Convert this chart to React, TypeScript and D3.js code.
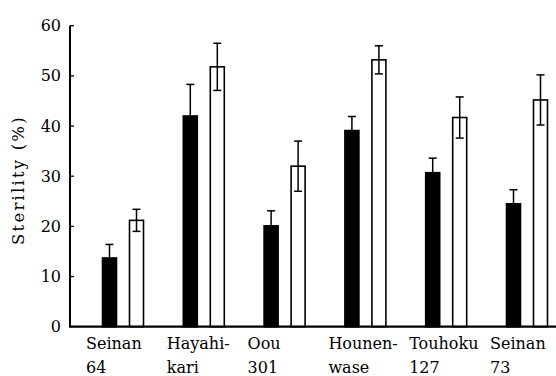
import React from "react";
import * as d3 from "d3";

// Cultivars (two-line labels) and sterility values (%) with standard errors
const cultivars = ["Seinan 64", "Hayahi-kari", "Oou 301", "Hounen-wase", "Touhoku 127", "Seinan 73"];
const labelLine1 = ["Seinan", "Hayahi-", "Oou", "Hounen-", "Touhoku", "Seinan"];
const labelLine2 = ["64", "kari", "301", "wase", "127", "73"];
const blackValues = [13.7, 42.0, 20.1, 39.1, 30.7, 24.5];
const blackErrors = [2.7, 6.3, 3.0, 2.8, 2.9, 2.8];
const whiteValues = [21.2, 51.8, 32.0, 53.2, 41.7, 45.2];
const whiteErrors = [2.2, 4.7, 5.0, 2.8, 4.1, 5.0];
const yTicks = [0, 10, 20, 30, 40, 50, 60];
const seriesKeys = ["black", "white"];

const W = 556;
const H = 376;
const FONT = '"DejaVu Serif"';

const axisX0 = 70;
const y = d3.scaleLinear().domain([0, 60]).range([326.7, 25.7]);
const x = d3.scalePoint<string>().domain(cultivars).range([123, 527]);
const xi = d3.scalePoint<string>().domain(seriesKeys).range([-13.5, 13.5]);
const barW = 14;
const capW = 8;

const rows = cultivars.flatMap((c, i) => [
  { c, key: "black", v: blackValues[i], e: blackErrors[i] },
  { c, key: "white", v: whiteValues[i], e: whiteErrors[i] },
]);

const textStyle = (size: number, spacing = 0): React.CSSProperties => ({
  fontFamily: FONT,
  fontSize: `${size}px`,
  letterSpacing: `${spacing}px`,
});

export default function App() {
  return (
    <svg width={W} height={H} style={{ position: "absolute", left: 0, top: 0, background: "#fff" }}>
      {/* bars with error bars */}
      {rows.map((d) => {
        const cx = (x(d.c) as number) + (xi(d.key) as number);
        const top = y(d.v + d.e);
        const bot = y(d.v - d.e);
        return (
          <g key={d.c + d.key}>
            <rect
              x={cx - barW / 2}
              y={y(d.v)}
              width={barW}
              height={y(0) - y(d.v)}
              fill={d.key === "black" ? "#000" : "#fff"}
              stroke="#000"
              strokeWidth={1.6}
            />
            <line x1={cx} x2={cx} y1={bot} y2={top} stroke="#000" strokeWidth={1.5} />
            <line x1={cx - capW / 2} x2={cx + capW / 2} y1={top} y2={top} stroke="#000" strokeWidth={1.5} />
            <line x1={cx - capW / 2} x2={cx + capW / 2} y1={bot} y2={bot} stroke="#000" strokeWidth={1.5} />
          </g>
        );
      })}

      {/* y axis */}
      <line x1={axisX0} x2={axisX0} y1={y(60)} y2={y(0)} stroke="#000" strokeWidth={2} />
      {yTicks.map((t) => (
        <g key={t}>
          <line x1={axisX0} x2={axisX0 + 4} y1={y(t)} y2={y(t)} stroke="#000" strokeWidth={1.3} />
          <text x={axisX0 - 9} y={y(t)} dy="0.35em" textAnchor="end" fill="#000" style={textStyle(16)}>
            {t}
          </text>
        </g>
      ))}

      {/* x axis baseline */}
      <line x1={axisX0 - 1} x2={W} y1={y(0)} y2={y(0)} stroke="#000" strokeWidth={2.2} />

      {/* category labels */}
      {cultivars.map((c, i) => {
        const lx = (x(c) as number) - 37;
        return (
          <g key={c}>
            <text x={lx} y={349} fill="#000" style={textStyle(16)}>{labelLine1[i]}</text>
            <text x={lx} y={373} fill="#000" style={textStyle(16)}>{labelLine2[i]}</text>
          </g>
        );
      })}

      {/* y label */}
      <text
        transform="translate(24,180) rotate(-90)"
        textAnchor="middle"
        fill="#000"
        style={textStyle(16.5, 2.2)}
      >
        Sterility (%)
      </text>
    </svg>
  );
}
